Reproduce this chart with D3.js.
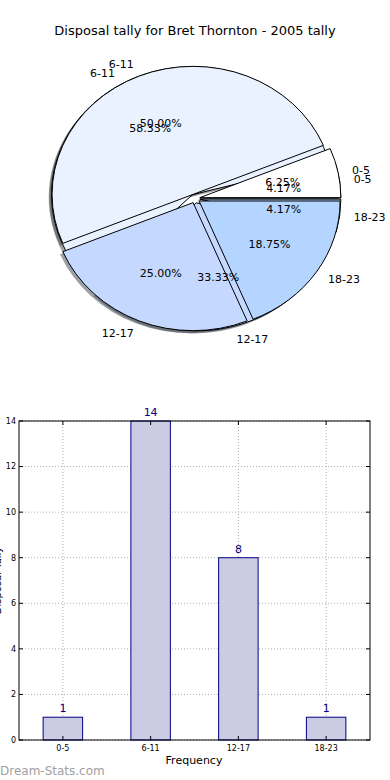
<!DOCTYPE html>
<html>
<head>
<meta charset="utf-8">
<script src="https://cdn.jsdelivr.net/npm/d3@7"></script>
<style>
  body { margin: 0; background: #fff; }
  svg { display: block; font-family: "DejaVu Sans", sans-serif; }
</style>
</head>
<body>
<div id="chart"></div>
<script>
// disposal bins and tallies
const bins = ['0-5', '6-11', '12-17', '18-23'];
const tally2005 = [1, 14, 8, 1];      // inner pie (58.33% etc) + bars
const tallyOther = [1, 8, 4, 3];      // top pie (50.00% etc)
const pieColors = ['#ffffff', '#eaf1ff', '#c5d8ff', '#b3d5ff'];
const yTicks = [0, 2, 4, 6, 8, 10, 12, 14];

const width = 390, height = 780;

const svg = d3.select('#chart')
  .append('svg')
  .attr('width', width)
  .attr('height', height);

svg.append('text')
  .attr('x', 195).attr('y', 35)
  .attr('text-anchor', 'middle')
  .attr('font-size', 13)
  .text('Disposal tally for Bret Thornton - 2005 tally');

// ---- pie part (matplotlib style: ccw from 3 o'clock, elliptical) ----
const cx = 195, cy = 198.5, rx = 141, ry = 128;
const explode = 0.035;

const pie = d3.pie().sort(null)
  .startAngle(Math.PI / 2)
  .endAngle(Math.PI / 2 - 2 * Math.PI);

const arc = d3.arc().innerRadius(0).outerRadius(1);

const pies = [tally2005, tallyOther].map(vals => {
  const total = d3.sum(vals);
  return pie(vals).map((d, i) => {
    const m = (d.startAngle + d.endAngle) / 2;
    return {
      ...d, i, total, m,
      ox: explode * Math.sin(m),
      oy: -explode * Math.cos(m)
    };
  });
});

const pieG = svg.append('g')
  .attr('transform', `translate(${cx},${cy}) scale(${rx},${ry})`);

// shadows first
pies.flat().forEach(d => {
  const c = d3.rgb(pieColors[d.i]);
  pieG.append('path')
    .attr('d', arc(d))
    .attr('transform', `translate(${d.ox - 0.02},${d.oy + 0.02})`)
    .attr('fill', d3.rgb(c.r * 0.3, c.g * 0.3, c.b * 0.3))
    .attr('fill-opacity', 0.5);
});

pies.forEach(p => {
  pieG.selectAll(null)
    .data(p)
    .join('path')
    .attr('d', arc)
    .attr('transform', d => `translate(${d.ox},${d.oy})`)
    .attr('fill', d => pieColors[d.i])
    .attr('stroke', '#000')
    .attr('stroke-width', 1)
    .attr('vector-effect', 'non-scaling-stroke');
});

const fmt = d3.format('.2f');
pies.forEach(p => {
  p.forEach(d => {
    const ux = Math.sin(d.m), uy = -Math.cos(d.m);
    const lx = cx + (d.ox + 1.1 * ux) * rx;
    const ly = cy + (d.oy + 1.1 * uy) * ry;
    svg.append('text')
      .attr('x', lx).attr('y', ly)
      .attr('dy', '0.35em')
      .attr('text-anchor', lx > cx ? 'start' : 'end')
      .attr('font-size', 11)
      .text(bins[d.i]);
    svg.append('text')
      .attr('x', cx + (d.ox + 0.6 * ux) * rx)
      .attr('y', cy + (d.oy + 0.6 * uy) * ry)
      .attr('dy', '0.35em')
      .attr('text-anchor', 'middle')
      .attr('font-size', 11)
      .text(fmt(d.value / d.total * 100) + '%');
  });
});

// ---- bar part ----
const plot = { left: 19, right: 370, top: 421, bottom: 740 };

const x = d3.scaleBand()
  .domain(bins)
  .range([plot.left, plot.right])
  .paddingInner(0.55)
  .paddingOuter(0.275);

const y = d3.scaleLinear()
  .domain([0, 14])
  .range([plot.bottom, plot.top]);

const grid = svg.append('g')
  .attr('stroke', '#b0b0b0')
  .attr('stroke-dasharray', '1,2');

grid.selectAll('.gy')
  .data(yTicks)
  .join('line')
  .attr('x1', plot.left).attr('x2', plot.right)
  .attr('y1', d => y(d)).attr('y2', d => y(d));

grid.selectAll('.gx')
  .data(bins)
  .join('line')
  .attr('x1', d => x(d) + x.bandwidth() / 2)
  .attr('x2', d => x(d) + x.bandwidth() / 2)
  .attr('y1', plot.top).attr('y2', plot.bottom);

svg.append('g')
  .selectAll('rect')
  .data(tally2005)
  .join('rect')
  .attr('x', (d, i) => x(bins[i]))
  .attr('y', d => y(d))
  .attr('width', x.bandwidth())
  .attr('height', d => y(0) - y(d))
  .attr('fill', '#cbcbe3')
  .attr('stroke', '#000080')
  .attr('stroke-width', 1);

svg.append('g')
  .selectAll('text')
  .data(tally2005)
  .join('text')
  .attr('x', (d, i) => x(bins[i]) + x.bandwidth() / 2)
  .attr('y', d => y(d) - 5)
  .attr('text-anchor', 'middle')
  .attr('font-size', 11)
  .attr('fill', '#000080')
  .text(d => d);

// frame
svg.append('rect')
  .attr('x', plot.left).attr('y', plot.top)
  .attr('width', plot.right - plot.left)
  .attr('height', plot.bottom - plot.top)
  .attr('fill', 'none')
  .attr('stroke', '#000');

// y ticks (inward, both sides)
const yt = svg.append('g');
yTicks.forEach(t => {
  yt.append('line').attr('x1', plot.left).attr('x2', plot.left + 4)
    .attr('y1', y(t)).attr('y2', y(t)).attr('stroke', '#000');
  yt.append('line').attr('x1', plot.right).attr('x2', plot.right - 4)
    .attr('y1', y(t)).attr('y2', y(t)).attr('stroke', '#000');
  yt.append('text')
    .attr('x', plot.left - 3).attr('y', y(t))
    .attr('dy', '0.35em')
    .attr('text-anchor', 'end')
    .attr('font-size', 8)
    .text(t);
});

// x ticks
const xt = svg.append('g');
bins.forEach(b => {
  const cxb = x(b) + x.bandwidth() / 2;
  xt.append('line').attr('x1', cxb).attr('x2', cxb)
    .attr('y1', plot.bottom).attr('y2', plot.bottom - 4).attr('stroke', '#000');
  xt.append('line').attr('x1', cxb).attr('x2', cxb)
    .attr('y1', plot.top).attr('y2', plot.top + 4).attr('stroke', '#000');
  xt.append('text')
    .attr('x', cxb).attr('y', plot.bottom + 11)
    .attr('text-anchor', 'middle')
    .attr('font-size', 8)
    .text(b);
});

svg.append('text')
  .attr('x', 194).attr('y', 764)
  .attr('text-anchor', 'middle')
  .attr('font-size', 11)
  .text('Frequency');

// y label is mostly cut off by the left edge in the original
svg.append('text')
  .attr('transform', `translate(1,${(plot.top + plot.bottom) / 2}) rotate(-90)`)
  .attr('text-anchor', 'middle')
  .attr('font-size', 10)
  .text('Disposal Tally');

svg.append('text')
  .attr('x', 0).attr('y', 775)
  .attr('font-size', 12)
  .attr('fill', '#a0a0a0')
  .text('Dream-Stats.com');
</script>
</body>
</html>
